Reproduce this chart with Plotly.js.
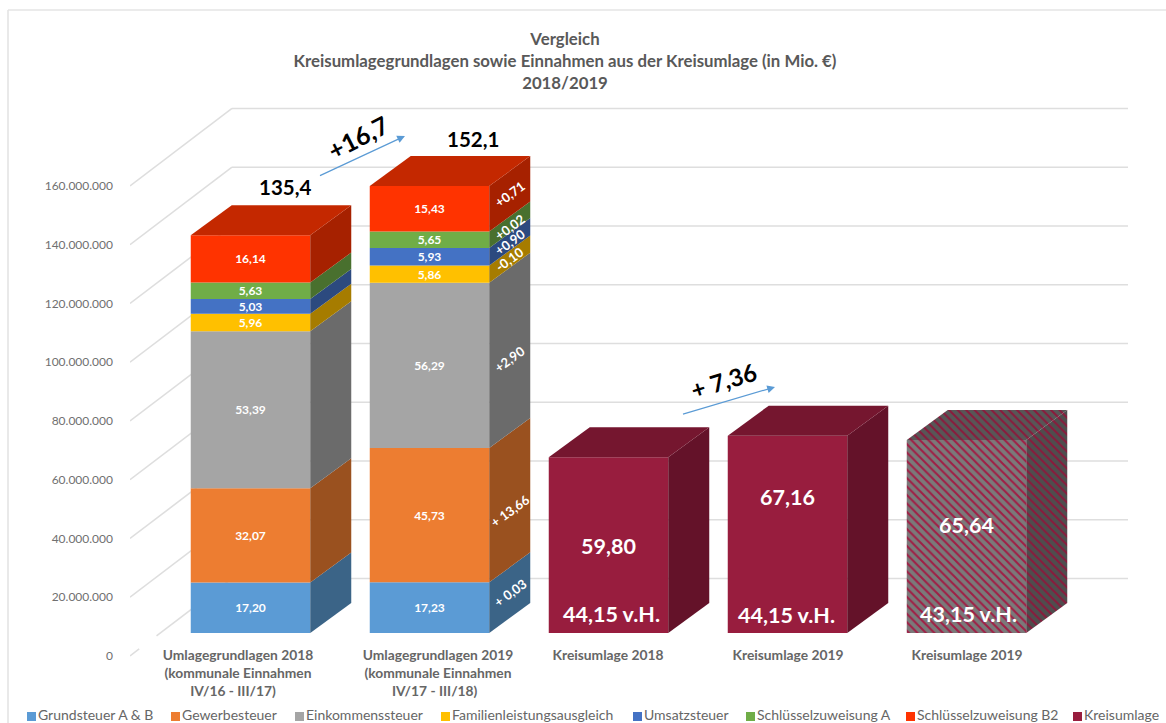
<!DOCTYPE html>
<html>
<head>
<meta charset="utf-8">
<script src="https://cdn.plot.ly/plotly-3.0.1.min.js"></script>
<style>html,body{margin:0;padding:0;background:#fff}#chart{width:1166px;height:723px}</style>
</head>
<body>
<div id="chart"></div>
<script>
// ---------- data (Mio. €) ----------
const categories = [
  "Umlagegrundlagen 2018<br>(kommunale Einnahmen<br>IV/16 - III/17)\u00a0\u00a0\u00a0",
  "Umlagegrundlagen 2019<br>(kommunale Einnahmen<br>IV/17 - III/18)\u00a0\u00a0",
  "Kreisumlage 2018",
  "Kreisumlage 2019",
  "Kreisumlage 2019"
];
const grundsteuer   = [17.20, 17.23];
const gewerbesteuer = [32.07, 45.73];
const einkommen     = [53.39, 56.29];
const familien      = [5.96, 5.86];
const umsatzsteuer  = [5.03, 5.93];
const schluesselA   = [5.63, 5.65];
const schluesselB2  = [16.14, 15.43];
const kreisumlage   = [59.80, 67.16, 65.64];
const hebesatz      = ["44,15 v.H.", "44,15 v.H.", "43,15 v.H."];
const totals        = ["135,4", "152,1"];
const diffLabels    = ["+ 0,03", "+ 13,66", "+2,90", "-0,10", "+0,90", "+0,02", "+0,71"];
const yTicks        = [0, 20, 40, 60, 80, 100, 120, 140, 160];
const yTickText     = ["0","20.000.000","40.000.000","60.000.000","80.000.000","100.000.000","120.000.000","140.000.000","160.000.000"];

// ---------- geometry / style ----------
const W = 1166, H = 723;
const M = {l:130, r:38, t:100, b:23};
const pxPerCat = 179, pxPerMio = 2.9375;
const xRange = [(M.l - 250.5)/pxPerCat, (M.l - 250.5)/pxPerCat + (W-M.l-M.r)/pxPerCat];
const yRange = [-15, -15 + (H-M.t-M.b)/pxPerMio];
const barW = 119.5/pxPerCat;
const floorBase = 23/pxPerMio;          // front face lifted off the axis zero
const depthX = 41/pxPerCat, depthY = 30/pxPerMio;   // bar depth
const wallX = 102/pxPerCat, wallY = 77.5/pxPerMio;  // wall depth
const fx = px => (px - M.l)/(W - M.l - M.r);
const fy = py => 1 - (py - M.t)/(H - M.t - M.b);
const cx = px => (px - 250.5)/pxPerCat;
const GRID = '#DEDEDE', TXT = '#666666', FONT = 'Lato, "Open Sans", sans-serif';
const fmt = v => v.toFixed(2).replace('.', ',');

const series = [
  {name:"Grundsteuer A & B",          vals:grundsteuer,   front:'#5B9BD5', side:'#3B6487', top:'#46769F'},
  {name:"Gewerbesteuer",              vals:gewerbesteuer, front:'#ED7D31', side:'#9A511F', top:'#B15D24'},
  {name:"Einkommenssteuer",           vals:einkommen,     front:'#A5A5A5', side:'#6B6B6B', top:'#7C7C7C'},
  {name:"Familienleistungsausgleich", vals:familien,      front:'#FFC000', side:'#A67C00', top:'#BF9000'},
  {name:"Umsatzsteuer",               vals:umsatzsteuer,  front:'#4472C4', side:'#2C4A7F', top:'#335593'},
  {name:"Schlüsselzuweisung A",       vals:schluesselA,   front:'#70AD47', side:'#49702E', top:'#548235'},
  {name:"Schlüsselzuweisung B2",      vals:schluesselB2,  front:'#FF3300', side:'#A62100', top:'#C42800'}
];
const crim = {front:'#981D3E', side:'#641229', top:'#75162F'};

const traces = [], sideTraces = [], annotations = [], shapes = [];

// text placed at a pixel spot of the reference layout
function label(px, py, text, size, color, angle){
  annotations.push({xref:'paper', yref:'paper', x:fx(px), y:fy(py), xanchor:'center', yanchor:'middle',
    text:text, showarrow:false, textangle:angle||0, font:{family:FONT, size:size, color:color}});
}

function sideFace(i, lo, hi, color, pattern){
  const x1 = i + barW/2;
  const t = {type:'scatter', mode:'lines', x:[x1, x1+depthX, x1+depthX, x1, x1],
    y:[lo, lo+depthY, hi+depthY, hi, lo].map(v => v*1e6), fill:'toself', fillcolor:color,
    line:{width:0, color:color}, hoverinfo:'skip', showlegend:false};
  if (pattern) t.fillpattern = pattern;
  sideTraces.push(t);
}
function topFace(i, hi, color, pattern){
  const x0 = i - barW/2, x1 = i + barW/2;
  const t = {type:'scatter', mode:'lines', x:[x0, x1, x1+depthX, x0+depthX, x0],
    y:[hi, hi, hi+depthY, hi+depthY, hi].map(v => v*1e6), fill:'toself', fillcolor:color,
    line:{width:0, color:color}, hoverinfo:'skip', showlegend:false};
  if (pattern) t.fillpattern = pattern;
  sideTraces.push(t);
}

// stacked columns
const running = [floorBase, floorBase];
series.forEach((s, k) => {
  const bases = running.slice();
  traces.push({type:'bar', name:s.name, x:[0,1], y:s.vals.map(v=>v*1e6), base:bases.map(v=>v*1e6), width:barW,
    marker:{color:s.front, line:{width:0}},
    text:s.vals.map(fmt), textposition:'inside', insidetextanchor:'middle', textangle:0, constraintext:'none',
    textfont:{family:FONT, size:12, color:'#FFFFFF', weight:700}, hoverinfo:'name+y', showlegend:false});
  s.vals.forEach((v, i) => {
    sideFace(i, bases[i], bases[i]+v, s.side);
    running[i] = bases[i] + v;
    if (k === series.length-1) topFace(i, running[i], s.top);
    if (i === 1) {
      const nudge = [0, -11, -9, 0, 0, -2, 0][k];
      annotations.push({xref:'x', yref:'y', x:i+barW/2+depthX/2, y:(bases[i]+v/2+depthY/2)*1e6, yshift:nudge,
        xanchor:'center', yanchor:'middle', text:'<b>'+diffLabels[k]+'</b>', showarrow:false, textangle:-36,
        font:{family:FONT, size:13, color:'#FFFFFF'}});
    }
  });
});
// totals above the stacks
[[285,187],[473,139]].forEach((p,i) => label(p[0], p[1], '<b>'+totals[i]+'</b>', 20.5, '#000000'));

// Kreisumlage columns
const hatchF = {shape:'\\', bgcolor:'#7A7A7A', fgcolor:'#A01E45', size:6, solidity:0.35, fillmode:'replace'};
const hatchS = {shape:'\\', bgcolor:'#4E4E4E', fgcolor:'#8A1A3C', size:6, solidity:0.35, fillmode:'replace'};
const hatchT = {shape:'\\', bgcolor:'#575757', fgcolor:'#8A1A3C', size:6, solidity:0.35, fillmode:'replace'};
traces.push({type:'bar', name:'Kreisumlage', x:[2,3,4], y:kreisumlage.map(v=>v*1e6), base:kreisumlage.map(()=>floorBase*1e6), width:barW,
  marker:{color:crim.front, line:{width:0},
    pattern:Object.assign({}, hatchF, {shape:['','','\\']})},
  hoverinfo:'name+y', showlegend:false});
kreisumlage.forEach((v,i) => {
  const c = i+2, hi = floorBase+v, hatched = i===2;
  sideFace(c, floorBase, hi, hatched?'#4E4E4E':crim.side, hatched?hatchS:null);
  topFace(c, hi, hatched?'#575757':crim.top, hatched?hatchT:null);
});
const kreisPos = [[608,546],[787,497],[966,525]];
const hebPos = [[611,614],[786,615],[968,614]];
kreisumlage.forEach((v,i) => {
  label(kreisPos[i][0], kreisPos[i][1], '<b>'+fmt(v)+'</b>', 21.5, '#FFFFFF');
  label(hebPos[i][0], hebPos[i][1], '<b>'+hebesatz[i]+'</b>', 21.5, '#FFFFFF');
});

// difference arrows
function arrow(x0,y0,x1,y1){
  annotations.push({xref:'paper', yref:'paper', axref:'pixel', ayref:'pixel', x:fx(x1), y:fy(y1), ax:x0-x1, ay:y0-y1,
    showarrow:true, arrowhead:2, arrowsize:1.3, arrowwidth:1.2, arrowcolor:'#5B9BD5', standoff:0, startstandoff:0});
}
arrow(317,177,405,136);
arrow(680,415,775,387);
label(358, 137, '<b>+16,7</b>', 25, '#000000', -27);
label(723, 380, '<b>+ 7,36</b>', 24, '#000000', -17);

// 3D frame: wall gridlines and diagonal floor lines
yTicks.forEach(t => {
  shapes.push({type:'line', layer:'below', xref:'x', yref:'y', x0:xRange[0]+wallX, x1:xRange[1],
    y0:(t+wallY)*1e6, y1:(t+wallY)*1e6, line:{color:GRID, width:1.6}});
  if (t === 0) {
    const f1 = 0.09, f2 = 0.26;
    shapes.push({type:'line', layer:'below', xref:'x', yref:'y', x0:xRange[0], x1:xRange[0]+wallX*f1,
      y0:0, y1:wallY*f1*1e6, line:{color:GRID, width:1.6}});
    shapes.push({type:'line', layer:'below', xref:'x', yref:'y', x0:xRange[0]+wallX*f2, x1:xRange[0]+wallX,
      y0:wallY*f2*1e6, y1:wallY*1e6, line:{color:GRID, width:1.6}});
  } else {
    shapes.push({type:'line', layer:'below', xref:'x', yref:'y', x0:xRange[0], x1:xRange[0]+wallX,
      y0:t*1e6, y1:(t+wallY)*1e6, line:{color:GRID, width:1.6}});
  }
});
// chart-area border (top and left)
shapes.push({type:'line', layer:'below', xref:'paper', yref:'paper', x0:fx(8), x1:fx(1166), y0:fy(10), y1:fy(10), line:{color:'#E4E4E4', width:1.6}});
shapes.push({type:'line', layer:'below', xref:'paper', yref:'paper', x0:fx(8), x1:fx(8), y0:fy(10), y1:fy(723), line:{color:'#E4E4E4', width:1.6}});

// legend row
const legendX = [27,171,295,441,633,746,906,1073];
series.concat([{name:'Kreisumlage', front:crim.front}]).forEach((s,i) => {
  shapes.push({type:'rect', xref:'paper', yref:'paper', x0:fx(legendX[i]), x1:fx(legendX[i]+9), y0:fy(721), y1:fy(712),
    fillcolor:s.front, line:{width:0}});
  annotations.push({xref:'paper', yref:'paper', x:fx(legendX[i]+9), y:fy(714), xanchor:'left', yanchor:'middle', text:s.name, showarrow:false,
    font:{family:FONT, size:14, color:TXT}});
});

const layout = {
  width:W, height:H, margin:M, paper_bgcolor:'#FFFFFF', plot_bgcolor:'rgba(0,0,0,0)',
  barmode:'overlay', showlegend:false, hovermode:'closest', separators:',.',
  title:{text:'<b>Vergleich<br>Kreisumlagegrundlagen sowie Einnahmen aus der Kreisumlage (in Mio. €)<br>2018/2019</b>',
    x:565/W, xanchor:'center', y:1-45/H, yanchor:'middle', font:{family:FONT, size:16.8, color:'#595959'}},
  xaxis:{range:xRange, anchor:'free', position:fy(645), showgrid:false, zeroline:false, showline:false, ticks:'',
    tickmode:'array', tickvals:[238,438,608,788,967].map(cx),
    ticktext:categories.map(c => '<b>'+c.split('<br>').join('</b><br><b>')+'</b>'), tickangle:0,
    tickfont:{family:FONT, size:13.8, color:TXT}},
  yaxis:{range:yRange.map(v=>v*1e6), showgrid:false, zeroline:false, showline:false, ticks:'',
    tickmode:'array', tickvals:yTicks.map(v=>v*1e6), ticktext:yTickText, ticklabelstandoff:16,
    tickfont:{family:FONT, size:12, color:'#707070'}},
  shapes:shapes, annotations:annotations
};
Plotly.newPlot('chart', traces.concat(sideTraces), layout, {displayModeBar:false, responsive:false});
</script>
</body>
</html>
